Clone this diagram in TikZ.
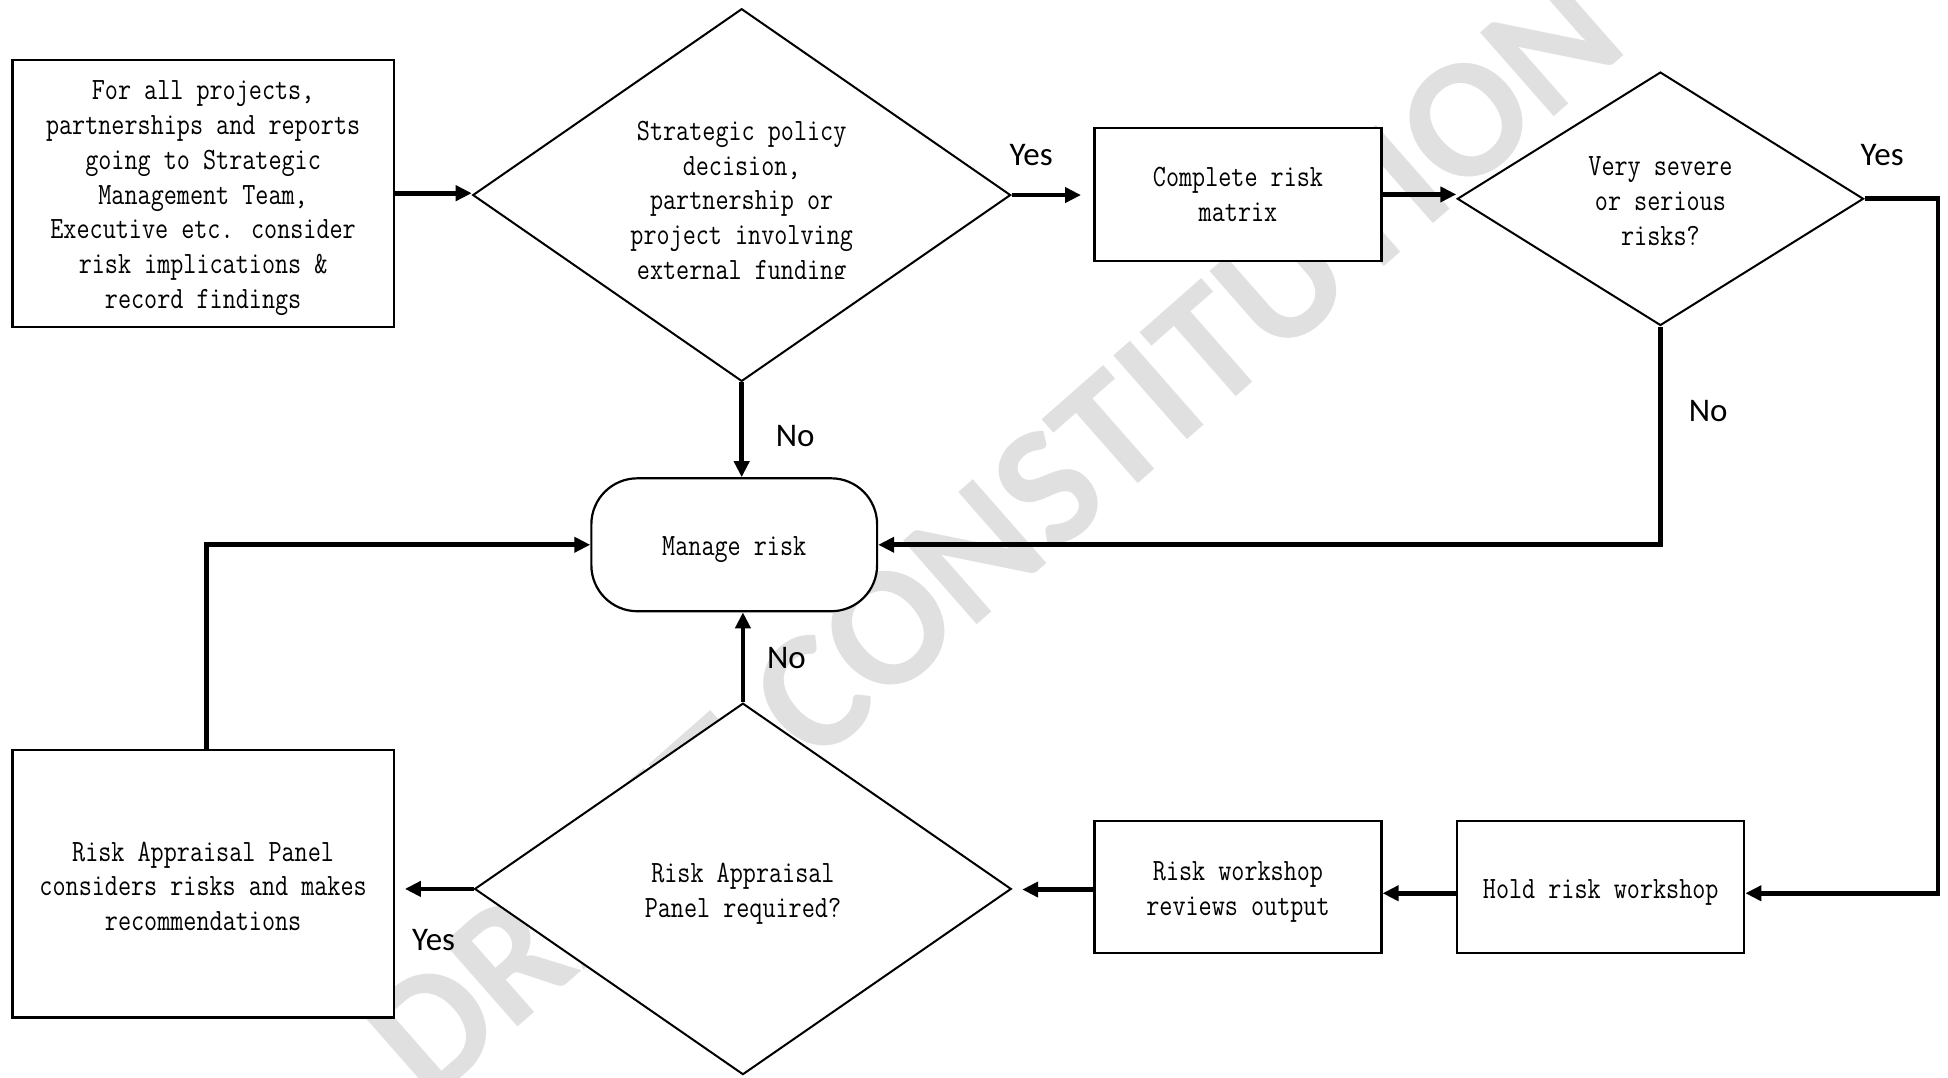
\documentclass[tikz,border=0pt]{standalone}
\usepackage{fontspec}
\usetikzlibrary{shapes.geometric,arrows.meta,calc}

% narrow typewriter face for the box texts, Carlito for answers and the watermark
\newfontfamily\boxfont{Latin Modern Mono}[FakeStretch=0.82]
\newfontfamily\answerface{Carlito}
\newfontfamily\markface{Carlito}[BoldFont={Carlito Bold}]
\newcommand\bodyfont{\boxfont\fontsize{15.5}{17.4}\selectfont}
% invisible strut that sets a first line a little lower in its box
\newcommand\lift[1]{\rule{0pt}{#1}}
\def\pu{0.6212pt}

\begin{document}
\begin{tikzpicture}[x=\pu, y=-\pu,
  stepbox/.style={draw, line width=1.1pt, fill=white, align=center, inner sep=0pt, font=\bodyfont},
  decision/.style={diamond, draw, line width=1pt, fill=white, align=center, inner sep=0pt, font=\bodyfont},
  terminal/.style={draw, line width=1.1pt, fill=white, rounded corners=23pt, align=center, inner sep=0pt, font=\bodyfont},
  flow/.style={line width=2.4pt, -{Triangle[length=8pt, width=7.5pt]}},
  answer/.style={font=\answerface\fontsize{16.5}{19}\selectfont, inner sep=0pt},
  wmtext/.style={font=\markface\bfseries\fontsize{86}{86}\selectfont, text=black!12, inner sep=0pt}
]
\useasboundingbox (0,0) rectangle (1568,867);
\fill[white] (0,0) rectangle (1568,867);

% watermark
\begin{scope}
  \clip (0,0) rectangle (1568,867);
  \node[wmtext, rotate=41.3] (wm) at (800,431) {DRAFT CONSTITUTION};
\end{scope}

% process boxes and decisions
\node[stepbox, minimum width=307*\pu, minimum height=215*\pu] (init) at (163.5,155.5)
  {\lift{14.5pt}For all projects,\\partnerships and reports\\going to Strategic\\Management Team,\\Executive etc. consider\\risk implications \&\\record findings};

\node[decision, minimum width=433*\pu, minimum height=300*\pu] (policy) at (597,157) {};
\begin{scope}
  \clip (381,0) rectangle (814,224);
  \node[font=\bodyfont, align=center, inner sep=0pt] (policytext) at (597,164)
    {Strategic policy\\decision,\\partnership or\\project involving\\external funding};
\end{scope}

\node[stepbox, minimum width=231*\pu, minimum height=107*\pu] (matrix) at (996.5,156.5) {Complete risk\\matrix};
\node[decision, minimum width=327*\pu, minimum height=204*\pu] (severe) at (1336.5,160) {\lift{12pt}Very severe\\or serious\\risks?};
\node[terminal, minimum width=230*\pu, minimum height=107*\pu] (manage) at (591,438.5) {\lift{14.5pt}Manage risk};
\node[stepbox, minimum width=307*\pu, minimum height=215*\pu] (panel) at (163.5,711.5)
  {\lift{12pt}Risk Appraisal Panel\\considers risks and makes\\recommendations};
\node[decision, minimum width=432*\pu, minimum height=299*\pu] (required) at (598,715.5) {\lift{14.5pt}Risk Appraisal\\Panel required?};
\node[stepbox, minimum width=231*\pu, minimum height=106*\pu] (review) at (996.5,714) {\lift{14.5pt}Risk workshop\\reviews output};
\node[stepbox, minimum width=231*\pu, minimum height=106*\pu] (hold) at (1288.5,714) {\lift{14.5pt}Hold risk workshop};

\coordinate (bend) at (1560,719);

% connectors
\draw[flow] (init.east) -- (init.east -| policy.west);
\draw[flow, shorten >=10*\pu] (policy.east) -- (policy.east -| matrix.west);
\draw[flow] (matrix.east) -- (matrix.east -| severe.west);
\draw[flow] (severe.east) -| (bend) -- (bend -| hold.east);
\draw[flow] (severe.south) |- (manage.east);
\draw[flow] (policy.south) -- (policy.south |- manage.north);
\draw[flow] ([yshift=-5*\pu]hold.west) -- ([yshift=-5*\pu]hold.west -| review.east);
\draw[flow, shorten >=8*\pu] ([yshift=-2*\pu]review.west) -- ([yshift=-2*\pu]review.west -| required.east);
\draw[flow, shorten >=8*\pu] (required.west) -- (required.west -| panel.east);
\draw[flow] (required.north) -- (required.north |- manage.south);
\draw[flow] ([xshift=2.5*\pu]panel.north) |- (manage.west);

% answers
\node[answer] (yes1) at (830,125) {Yes};
\node[answer] (yes2) at (1515,125) {Yes};
\node[answer] (no1) at (1375,331) {No};
\node[answer] (no2) at (640,351) {No};
\node[answer] (no3) at (633,530) {No};
\node[answer] (yes3) at (349,757) {Yes};
\end{tikzpicture}
\end{document}
